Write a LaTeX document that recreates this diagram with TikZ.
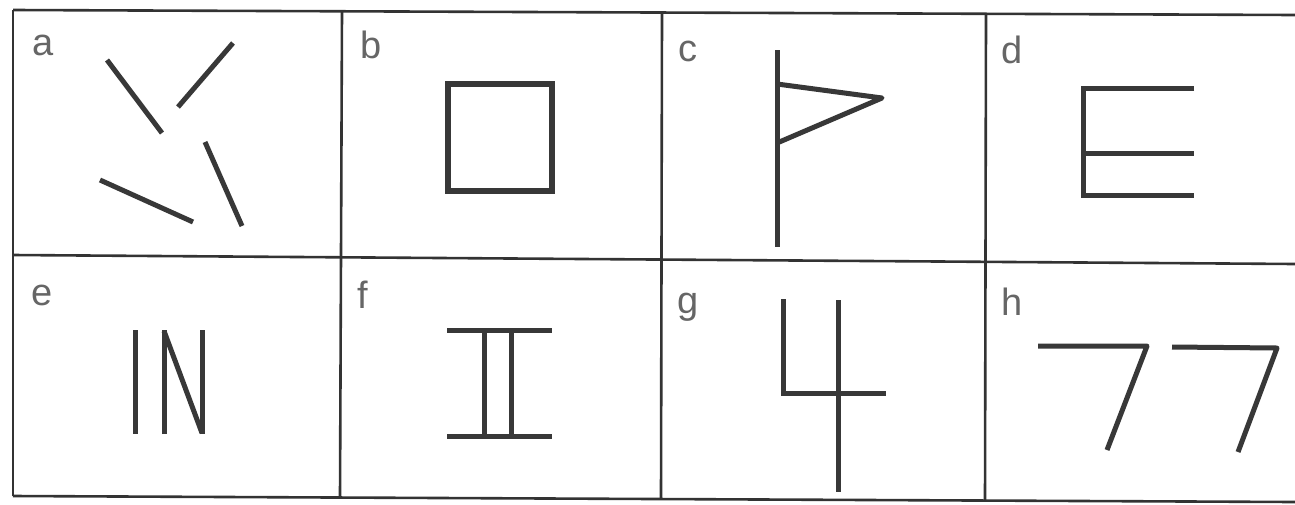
\documentclass[tikz,border=0pt]{standalone}
\usepackage{fontspec}
\setmainfont{Liberation Sans}
\begin{document}
\begin{tikzpicture}[x=1pt,y=-1pt,
  grid/.style={draw=black!80,line width=2.6pt},
  fig/.style={draw=black!78,line width=5pt},
  sharp/.style={fig,line join=round},
  lbl/.style={anchor=base west,inner sep=0pt,text=black!60,font=\fontsize{38}{40}\selectfont}]
\useasboundingbox[fill=white] (0,0) rectangle (1295,504);
% grid
\draw[grid] (13,10) -- (1295,15);
\draw[grid] (13,255) -- (1295,264);
\draw[grid] (13,496) -- (1295,502);
\draw[grid] (13,10) -- (13,496);
\draw[grid] (342,11) -- (340,497);
\draw[grid] (662,12) -- (661,499);
\draw[grid] (986,13) -- (985,501);
% labels
\node[lbl] (la) at (32,55) {a};
\node[lbl] (lb) at (360,58) {b};
\node[lbl] (lc) at (678,61) {c};
\node[lbl] (ld) at (1001,63) {d};
\node[lbl] (le) at (31,305) {e};
\node[lbl] (lf) at (357,308) {f};
\node[lbl] (lg) at (677,313) {g};
\node[lbl] (lh) at (1001,315) {h};
% a
\draw[fig] (107,60) -- (162,133);
\draw[fig] (233,43) -- (178,107);
\draw[fig] (205,142) -- (242,226);
\draw[fig] (100,180) -- (193,222);
% b
\draw[fig,line width=6pt] (448,84) rectangle (552,191);
% c
\draw[fig] (777,50) -- (777,247);
\draw[sharp] (777,84) -- (882,98) -- (777,143);
% d
\draw[fig] (1194,88) -- (1083,88) -- (1083,195) -- (1194,195);
\draw[fig] (1083,153) -- (1194,153);
% e
\draw[fig] (135,330) -- (135,434);
\draw[fig] (164,434) -- (164,330);
\draw[fig] (164,331) -- (202,433);
\draw[fig] (202,434) -- (202,330);
% f
\draw[fig] (447,330) -- (552,330);
\draw[fig] (447,436) -- (552,436);
\draw[fig] (484,330) -- (484,436);
\draw[fig] (511,330) -- (511,436);
% g
\draw[fig] (783,299) -- (783,393) -- (886,393);
\draw[fig] (838,300) -- (838,492);
% h
\draw[sharp] (1038,346) -- (1147,346) -- (1107,450);
\draw[sharp] (1172,347) -- (1277,348) -- (1238,452);
\end{tikzpicture}
\end{document}
